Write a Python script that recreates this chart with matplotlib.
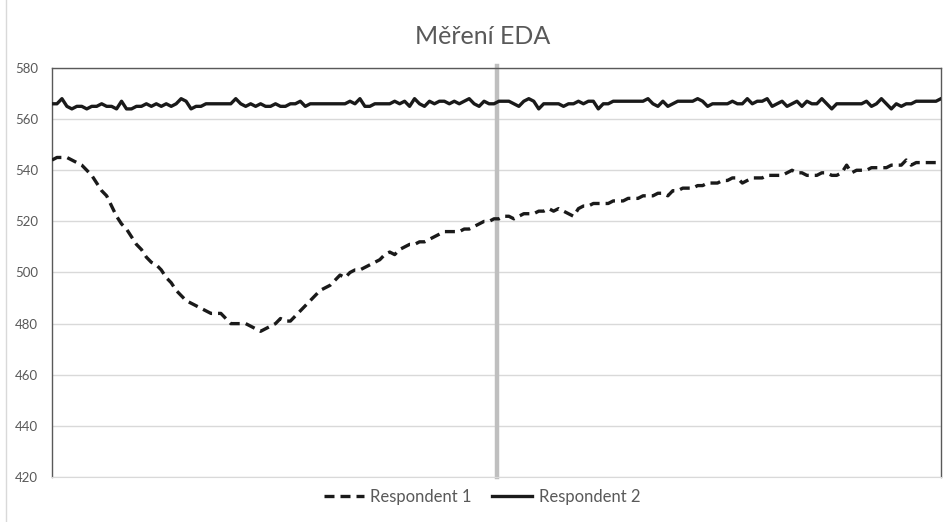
import matplotlib
matplotlib.use("Agg")
import matplotlib.pyplot as plt
from matplotlib.lines import Line2D
import numpy as np

# EDA readings, one value per sample
respondent_1 = [
    544, 545, 545, 545, 544, 543, 542, 540, 538, 535,
    532, 530, 526, 522, 519, 517, 514, 511, 509, 506,
    504, 503, 501, 498, 496, 493, 491, 489, 488, 487,
    486, 485, 484, 484, 484, 482, 480, 480, 480, 480,
    479, 478, 477, 478, 479, 480, 482, 481, 481, 483,
    485, 487, 489, 491, 493, 494, 495, 497, 499, 498,
    500, 501, 501, 502, 503, 504, 505, 507, 508, 507,
    509, 510, 511, 511, 512, 512, 513, 514, 515, 516,
    516, 516, 516, 517, 517, 518, 519, 520, 520, 521,
    521, 522, 522, 521, 522, 523, 523, 523, 524, 524,
    525, 524, 525, 524, 523, 522, 525, 526, 526, 527,
    527, 527, 527, 528, 528, 528, 529, 529, 529, 530,
    530, 530, 531, 531, 530, 532, 532, 533, 533, 533,
    534, 534, 535, 535, 535, 536, 536, 537, 537, 535,
    536, 537, 537, 537, 538, 538, 538, 538, 539, 540,
    539, 539, 538, 538, 538, 539, 539, 538, 538, 539,
    542, 539, 540, 540, 540, 541, 541, 541, 541, 542,
    542, 542, 544, 542, 543, 543, 543, 543, 543, 543,
]
respondent_2 = [
    566, 566, 568, 565, 564, 565, 565, 564, 565, 565,
    566, 565, 565, 564, 567, 564, 564, 565, 565, 566,
    565, 566, 565, 566, 565, 566, 568, 567, 564, 565,
    565, 566, 566, 566, 566, 566, 566, 568, 566, 565,
    566, 565, 566, 565, 565, 566, 565, 565, 566, 566,
    567, 565, 566, 566, 566, 566, 566, 566, 566, 566,
    567, 566, 568, 565, 565, 566, 566, 566, 566, 567,
    566, 567, 565, 568, 566, 565, 567, 566, 567, 567,
    566, 567, 566, 567, 568, 566, 565, 567, 566, 566,
    567, 567, 567, 566, 565, 567, 568, 567, 564, 566,
    566, 566, 566, 565, 566, 566, 567, 566, 567, 567,
    564, 566, 566, 567, 567, 567, 567, 567, 567, 567,
    568, 566, 565, 567, 565, 566, 567, 567, 567, 567,
    568, 567, 565, 566, 566, 566, 566, 567, 566, 566,
    568, 566, 567, 567, 568, 565, 566, 567, 565, 566,
    567, 565, 567, 566, 566, 568, 566, 564, 566, 566,
    566, 566, 566, 566, 567, 565, 566, 568, 566, 564,
    566, 565, 566, 566, 567, 567, 567, 567, 567, 568,
]
series_labels = ["Respondent 1", "Respondent 2"]
y_ticks = [420, 440, 460, 480, 500, 520, 540, 560, 580]
split_index = 89.5  # sample where the grey marker sits (middle of the record)
title = "Měření EDA"

plt.rcParams["font.family"] = ["Lato", "DejaVu Sans"]
text_grey = "#595959"

fig = plt.figure(figsize=(9.52, 5.22), dpi=100)
ax = fig.add_axes([52 / 952, 1 - 477 / 522, 889 / 952, 409 / 522])

samples = np.arange(len(respondent_1))
ax.plot(samples, respondent_1, color="#1a1a1a", lw=2.4, linestyle=(0, (3.0, 1.8)),
        label=series_labels[0], zorder=3)
ax.plot(samples, respondent_2, color="#1a1a1a", lw=2.4, label=series_labels[1], zorder=3)

# grey marker line, sticks out a little above the plot
ax.axvline(split_index, ymin=0, ymax=1.006, color="#BFBFBF", lw=3.2, zorder=2, clip_on=False)

ax.set_xlim(0, len(samples) - 1)
ax.set_ylim(y_ticks[0], y_ticks[-1])
ax.set_yticks(y_ticks)
ax.set_xticks([])
ax.tick_params(axis="y", length=0, pad=10, labelsize=9.5, labelcolor=text_grey)
ax.grid(axis="y", color="#D9D9D9", lw=1, zorder=0)

for side in ["left", "top", "right"]:
    ax.spines[side].set_color("#595959")
    ax.spines[side].set_linewidth(1)
ax.spines["bottom"].set_color("#D9D9D9")

fig.text(483 / 952, 1 - 37 / 522, title, ha="center", va="center", fontsize=18, color=text_grey)

fig.legend(loc="center", bbox_to_anchor=(482 / 952, 1 - 497 / 522), ncol=2, frameon=False,
           fontsize=12, labelcolor=text_grey, handlelength=2.4, handletextpad=0.4,
           columnspacing=1.2)

# thin chart border on the left edge
fig.add_artist(Line2D([6 / 952, 6 / 952], [0, 1], color="#D9D9D9", lw=1))

fig.savefig("out.png", dpi=100)
